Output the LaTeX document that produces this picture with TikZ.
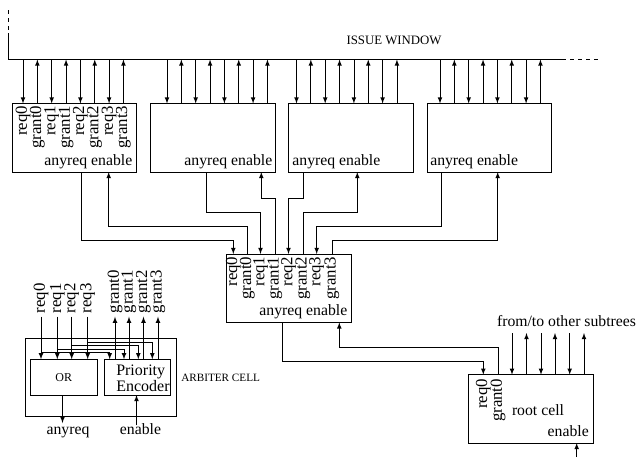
\documentclass[tikz,border=0pt]{standalone}
\usepackage{fontspec}
\setmainfont{Liberation Serif}
\usetikzlibrary{arrows,positioning,calc}

\tikzset{
    wire/.style={line width=0.6pt},
    sig/.style={wire,->,>=latex},
    cell/.style={draw,line width=0.6pt,inner sep=0pt,minimum width=93.4pt,minimum height=51.4pt},
    halfcell/.style={draw,line width=0.6pt,inner sep=0pt,minimum width=50pt,minimum height=27pt},
    port/.style={rotate=90,anchor=east,inner sep=1.5pt,font=\fontsize{12.6}{12.6}\selectfont},
    txt/.style={inner sep=0pt,font=\fontsize{11.8}{13}\selectfont},
    small/.style={inner sep=0pt,font=\fontsize{8.4}{10}\selectfont}
}

\begin{document}
\begin{tikzpicture}[x=0.75pt,y=-0.75pt]
        \useasboundingbox (0,0) rectangle (637,464);

        % Issue window
        \coordinate (wintop) at (8.5,10);
        \coordinate (winbend) at (8.5,33);
        \coordinate (winleft) at (8.5,59.5);
        \coordinate (winright) at (562,59.5);
        \coordinate (winend) at (600,59.5);
        \draw[wire,dashed] (wintop) -- (winbend);
        \draw[wire] (winbend) -- (winleft) -- (winright);
        \draw[wire,dashed] (winright) -- (winend);
        \node[small,font=\fontsize{9.6}{10}\selectfont] (wintext) at (394,40) {ISSUE WINDOW};

        % Leaf cells
        \node[cell] (cella) at (74.25,137.75) {};
        \node[cell] (cellb) at (213,137.75) {};
        \node[cell] (cellc) at (351,137.75) {};
        \node[cell] (celld) at (489.25,137.75) {};

        % Wires up to the window
        \foreach \c/\x in {a/23,b/167,c/296.5,d/440} {
            \foreach \i in {0,2,4,6} {
                \coordinate (\c top\i) at (\x+14.35*\i,59.5);
                \coordinate (\c pin\i) at (\x+14.35*\i,103.5);
                \draw[sig] (\c top\i) -- (\c pin\i);
            }
            \foreach \i in {1,3,5,7} {
                \coordinate (\c top\i) at (\x+14.35*\i,59.5);
                \coordinate (\c pin\i) at (\x+14.35*\i,103.5);
                \draw[sig] (\c pin\i) -- (\c top\i);
            }
        }

        % Labels of the first cell
        \foreach \i/\t in {0/req0,1/grant0,2/req1,3/grant1,4/req2,5/grant2,6/req3,7/grant3} {
            \node[port] (alabel\i) at (apin\i) {\t};
        }
        \node[txt,anchor=base east] (aout) at (132.5,166) {anyreq enable};
        \node[txt,anchor=base east] (bout) at (272.5,166) {anyreq enable};
        \node[txt,anchor=base east] (cout) at (380.5,166) {anyreq enable};
        \node[txt,anchor=base west] (dout) at (430,166) {anyreq enable};

        % Central cell
        \node[cell] (mid) at (288.85,288.2) {};
        \foreach \i/\t/\x in {0/req0/233.3,1/grant0/247.3,2/req1/260.5,3/grant1/275,4/req2/288.5,5/grant2/303,6/req3/316.7,7/grant3/332} {
            \coordinate (mpin\i) at (\x,254);
            \node[port,inner sep=3pt,xshift=1.2pt] (mlabel\i) at (mpin\i) {\t};
        }
        \node[txt,anchor=base east] (mout) at (347.5,315) {anyreq enable};

        % Leaf cells to central cell
        \coordinate (aany) at (81.5,172);
        \coordinate (aena) at (108.7,172);
        \coordinate (bany) at (206.5,172);
        \coordinate (bena) at (261.3,172);
        \coordinate (cany) at (303,172);
        \coordinate (cena) at (357.3,172);
        \coordinate (dany) at (441,172);
        \coordinate (dena) at (497.7,172);
        \coordinate (rowa) at (0,240.7);
        \coordinate (rowb) at (0,226.7);
        \coordinate (rowc) at (0,212);
        \coordinate (rowd) at (0,198.7);
        \draw[sig] (aany) |- (rowa -| mpin0) -- (mpin0);
        \draw[sig] (mpin1) |- (rowb -| aena) -- (aena);
        \draw[sig] (bany) |- (rowc -| mpin2) -- (mpin2);
        \draw[sig] (mpin3) |- (rowd -| bena) -- (bena);
        \draw[sig] (cany) |- (rowd -| mpin4) -- (mpin4);
        \draw[sig] (mpin5) |- (rowc -| cena) -- (cena);
        \draw[sig] (dany) |- (rowb -| mpin6) -- (mpin6);
        \draw[sig] (mpin7) |- (rowa -| dena) -- (dena);

        % Root cell
        \node[cell] (root) at (531.15,408.85) {};
        \coordinate (rpin0) at (483.3,374.7);
        \coordinate (rpin1) at (498,374.7);
        \node[port,inner sep=3pt] (rlabel0) at (rpin0) {req0};
        \node[port,inner sep=3pt] (rlabel1) at (rpin1) {grant0};
        \node[txt] (rtext) at (538,410) {root cell};
        \node[txt,anchor=base east] (rena) at (589,436) {enable};
        \coordinate (many) at (282,322.4);
        \coordinate (mena) at (339.3,322.4);
        \coordinate (rowe) at (0,361.3);
        \coordinate (rowf) at (0,347.3);
        \draw[sig] (many) |- (rowe -| rpin0) -- (rpin0);
        \draw[sig] (rpin1) |- (rowf -| mena) -- (mena);
        \foreach \i/\x in {0/512,2/541,4/569.7} {
            \coordinate (rup\i) at (\x,333);
            \coordinate (rdn\i) at (\x,374.7);
            \draw[sig] (rup\i) -- (rdn\i);
        }
        \foreach \i/\x in {1/526.5,3/555,5/584} {
            \coordinate (rup\i) at (\x,333);
            \coordinate (rdn\i) at (\x,374.7);
            \draw[sig] (rdn\i) -- (rup\i);
        }
        \node[txt] (rfrom) at (566.5,321) {from/to other subtrees};
        \coordinate (rinend) at (576.7,457);
        \coordinate (rinpin) at (576.7,443);
        \draw[sig] (rinend) -- (rinpin);

        % Arbiter cell
        \node[draw,line width=0.6pt,inner sep=0pt,minimum width=113.25pt,minimum height=58.3pt] (arb) at (100.5,377.2) {};
        \node[halfcell,small,font=\fontsize{9}{10}\selectfont] (orbox) at (63.75,377.2) {OR};
        \node[halfcell] (pebox) at (137.25,377.2) {};
        \node[txt,font=\fontsize{12}{10.5}\selectfont,align=left,anchor=west] (petext) at (116,378) {Priority\\Encoder};
        \node[small,anchor=west] (arbtext) at (181,378) {ARBITER CELL};

        \foreach \i/\x in {0/41,1/57.3,2/71.7,3/87.7} {
            \coordinate (reqend\i) at (\x,316.7);
            \coordinate (reqpin\i) at (\x,359.3);
            \draw[sig] (reqend\i) -- (reqpin\i);
            \node[port,anchor=west,inner sep=2.5pt] (reqtext\i) at (reqend\i) {req\i};
        }
        \foreach \i/\x in {0/115,1/129,2/143.5,3/158} {
            \coordinate (grantend\i) at (\x,316.7);
            \coordinate (grantpin\i) at (\x,359.3);
            \draw[sig] (grantpin\i) -- (grantend\i);
            \node[port,anchor=west,inner sep=2.5pt] (granttext\i) at (grantend\i) {grant\i};
        }
        \foreach \i/\x/\y/\px in {0/41/352.7/109.7,1/57.3/349/124,2/71.7/345.5/138.3,3/87.7/342/152.3} {
            \coordinate (tapfrom\i) at (\x,\y);
            \coordinate (tapin\i) at (\px,359.3);
            \draw[sig] (tapfrom\i) -| (tapin\i);
        }
        \coordinate (orout) at (62.5,395);
        \coordinate (orend) at (62.5,423);
        \draw[sig] (orout) -- (orend);
        \coordinate (peend) at (136.5,425);
        \coordinate (pein) at (136.5,395);
        \draw[sig] (peend) -- (pein);
        \node[txt,anchor=base] (anytext) at (68,434) {anyreq};
        \node[txt,anchor=base] (enatext) at (140.5,434) {enable};
    \end{tikzpicture}
\end{document}
